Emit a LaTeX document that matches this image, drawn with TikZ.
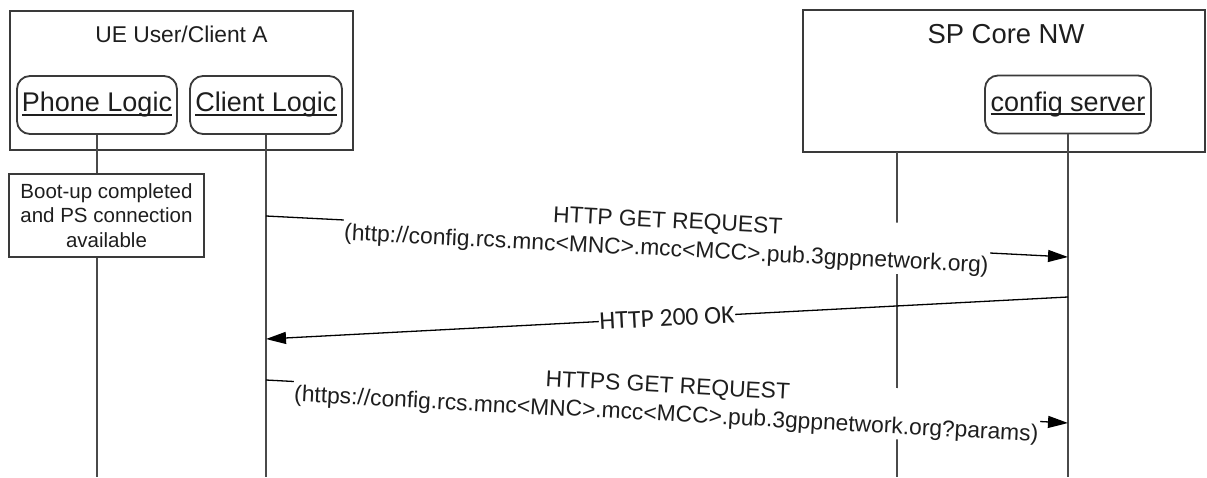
\documentclass[tikz,border=0pt]{standalone}
\usepackage{fontspec}
\setmainfont{Liberation Sans}
\newfontfamily\carlitofont{Carlito}
\usetikzlibrary{arrows.meta,calc}
\definecolor{boxline}{HTML}{3A3A3A}
\definecolor{lifecol}{HTML}{4A4A4A}
\definecolor{txt}{HTML}{1E1E1E}
\newsavebox\myulbox
\newcommand\myul[1]{\leavevmode\sbox\myulbox{#1}\rlap{\usebox\myulbox}\smash{\rule[-4pt]{\wd\myulbox}{2pt}}}
\begin{document}
\begin{tikzpicture}[x=1pt,y=-1pt,
  frame/.style={draw=boxline, line width=2pt, fill=white, inner sep=0pt},
  titletext/.style={inner sep=0pt, text=txt},
  entity/.style={draw=boxline, line width=1.8pt, rounded corners=13pt, fill=white,
    minimum height=58pt, inner sep=0pt, text=txt, font=\fontsize{27}{33}\selectfont},
  notebox/.style={draw=boxline, line width=1.6pt, fill=white, inner sep=0pt,
    align=center, text=txt, font=\fontsize{20.5}{24.5}\selectfont},
  life/.style={draw=lifecol, line width=1.8pt},
  msg/.style={draw=black, line width=1.3pt, -{Triangle[length=20pt,width=12pt]}},
  lbl/.style={fill=white, inner sep=1pt, align=center, text=txt,
    font=\fontsize{22.8}{28.5}\selectfont},
  okl/.style={fill=white, inner sep=0.5pt, text=txt, font=\carlitofont\fontsize{25.6}{30}\selectfont}
]
\useasboundingbox (0,0) rectangle (1207,477);

% containers
\node[frame, minimum width=343pt, minimum height=139pt] (ue) at (181.5,80.5) {};
\node[frame, minimum width=402pt, minimum height=142pt] (sp) at (1004,81) {};
\node[titletext, font=\fontsize{22.8}{27}\selectfont] (uet) at (181.5,34) {UE User/Client A};
\node[titletext, font=\fontsize{27.4}{32}\selectfont] (spt) at (1006,34) {SP Core NW};

% entities
\node[entity, minimum width=160pt] (pl) at (97,105) {\myul{Phone Logic}};
\node[entity, minimum width=152pt] (cl) at (266,105) {\myul{Client Logic}};
\node[entity, minimum width=166pt] (cs) at (1068,104.5) {\myul{config server}};

% note
\node[notebox, minimum width=195pt, minimum height=83pt] (boot) at (106.5,215.5)
  {Boot-up completed\\and PS connection\\available};

% lifeline ends
\coordinate (plb) at (97,477);
\coordinate (clb) at (266,477);
\coordinate (nwt) at (897,152);
\coordinate (nwb) at (897,477);
\coordinate (csb) at (1068,477);

\draw[life] (pl.south) -- (pl.south |- boot.north);
\draw[life] (pl.south |- boot.south) -- (plb);
\draw[life] (cl.south) -- (clb);
\draw[life] (nwt) -- (nwb);
\draw[life] (cs.south) -- (csb);

% message points
\coordinate (m1a) at (266,216);
\coordinate (m1b) at (1068,257);
\coordinate (m2a) at (1068,297);
\coordinate (m2b) at (266,339);
\coordinate (m3a) at (266,380);
\coordinate (m3b) at (1068,423);

\draw[msg] (m1a) -- node[lbl, sloped] (l1)
  {HTTP GET REQUEST\\(http://config.rcs.mnc<MNC>.mcc<MCC>.pub.3gppnetwork.org)} (m1b);
\draw[msg] (m2a) -- node[okl, sloped] (l2) {HTTP 200 OK} (m2b);
\draw[msg] (m3a) -- node[lbl, sloped] (l3)
  {HTTPS GET REQUEST\\(https://config.rcs.mnc<MNC>.mcc<MCC>.pub.3gppnetwork.org?params)} (m3b);
\end{tikzpicture}
\end{document}
